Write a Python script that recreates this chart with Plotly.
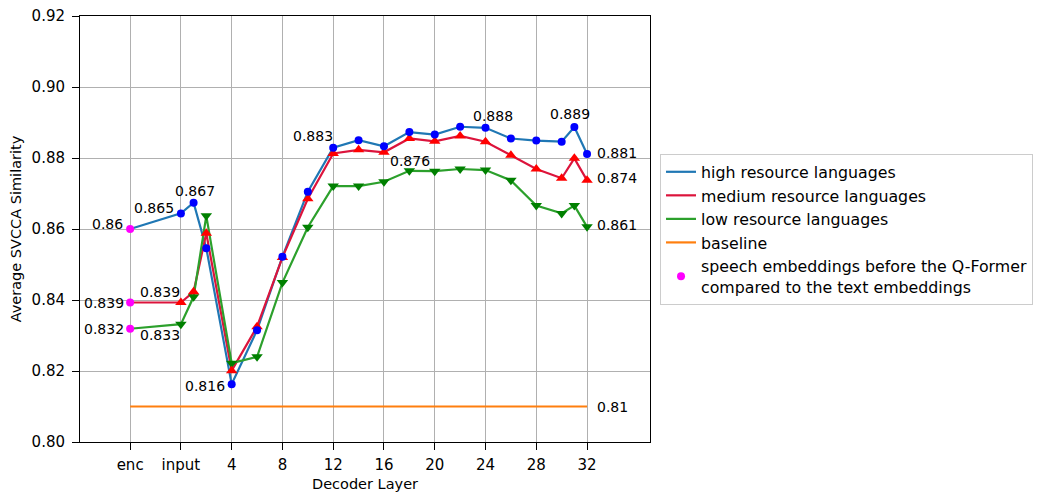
import plotly.graph_objects as go

# x positions: enc=-4, input=0, then decoder layers
x_pos = [-4, 0, 1, 2, 4, 6, 8, 10, 12, 14, 16, 18, 20, 22, 24, 26, 28, 30, 31, 32]

high = [0.8600, 0.8644, 0.8674, 0.8546, 0.8163, 0.8315, 0.8522, 0.8705, 0.8829, 0.8850,
        0.8833, 0.8873, 0.8866, 0.8888, 0.8885, 0.8855, 0.8849, 0.8846, 0.8887, 0.8811]
medium = [0.8393, 0.8393, 0.8423, 0.8588, 0.8201, 0.8325, 0.8520, 0.8685, 0.8813, 0.8823,
          0.8816, 0.8855, 0.8847, 0.8862, 0.8846, 0.8808, 0.8769, 0.8743, 0.8799, 0.8737]
low = [0.8319, 0.8332, 0.8409, 0.8637, 0.8222, 0.8240, 0.8449, 0.8605, 0.8721, 0.8721,
       0.8733, 0.8764, 0.8763, 0.8769, 0.8766, 0.8737, 0.8666, 0.8644, 0.8666, 0.8606]

baseline_x = [-4, 32]
baseline_y = [0.81, 0.81]

enc_x = [-4, -4, -4]
enc_y = [high[0], medium[0], low[0]]

tick_vals = [-4, 0, 4, 8, 12, 16, 20, 24, 28, 32]
tick_text = ["enc", "input", "4", "8", "12", "16", "20", "24", "28", "32"]

# value labels: (x, y, text)
label_x = [-4, 0, 1, -4, 0, -4, 0, 4, 12, 18, 24, 31, 32, 32, 32, 32]
label_y = [high[0], high[1], high[2], medium[0], medium[1], low[0], low[1], high[4],
           high[8], low[11], high[14], high[18], high[19], medium[19], low[19], 0.81]
label_text = ["0.86", "0.865", "0.867", "0.839", "0.839", "0.832", "0.833", "0.816",
              "0.883", "0.876", "0.888", "0.889", "0.881", "0.874", "0.861", "0.81"]
# style: anchor and pixel offsets
label_anchor = ["right", "right", "center", "right", "right", "right", "right", "right",
                "right", "center", "center", "center", "left", "left", "left", "left"]
label_dx = [-5, -5, 1, -4, 1, -4, 1, -5, 2, 1, 7, -4, 8, 8, 8, 8]
label_dy = [5, 5, 12, -1, 10, 0, -11, -2, 12, 10, 12, 13, 1, 2, 2, 0]

FONT = "DejaVu Sans"
fig = go.Figure()

series = [
    ("high resource languages", high, "#1f77b4", "#0000ff", "circle", 8),
    ("medium resource languages", medium, "#dc143c", "#ff0000", "triangle-up", 10),
    ("low resource languages", low, "#2ca02c", "#008000", "triangle-down", 10),
]

# lines
for i, (name, ys, lc, mc, sym, ms) in enumerate(series):
    fig.add_trace(go.Scatter(x=x_pos, y=ys, mode="lines", name=name,
                             line=dict(color=lc, width=2.2), legendrank=i + 1))
fig.add_trace(go.Scatter(x=baseline_x, y=baseline_y, mode="lines", name="baseline",
                         line=dict(color="#ff7f0e", width=2.2), legendrank=4))

# markers (low, medium, high so that blue is on top)
for name, ys, lc, mc, sym, ms in reversed(series):
    fig.add_trace(go.Scatter(x=x_pos[1:], y=ys[1:], mode="markers", showlegend=False,
                             marker=dict(color=mc, symbol=sym, size=ms)))

fig.add_trace(go.Scatter(x=enc_x, y=enc_y, mode="markers",
                         name="speech embeddings before the Q-Former<br>compared to the text embeddings",
                         marker=dict(color="#ff00ff", size=8), legendrank=5))

for xv, yv, t, a, dx, dy in zip(label_x, label_y, label_text, label_anchor, label_dx, label_dy):
    fig.add_annotation(x=xv, y=yv, text=t, showarrow=False, xanchor=a, yanchor="middle",
                       xshift=dx, yshift=dy, font=dict(family=FONT, size=14, color="black"))

fig.update_layout(
    width=1044, height=492,
    margin=dict(l=80, r=393, t=16, b=50),
    paper_bgcolor="white", plot_bgcolor="white",
    font=dict(family=FONT, size=14, color="black"),
    legend=dict(x=1.0158, y=0.676, xanchor="left", yanchor="top",
                bordercolor="#cccccc", borderwidth=1, bgcolor="white",
                font=dict(family=FONT, size=15.8), tracegroupgap=0),
    showlegend=True,
)
fig.update_xaxes(range=[-7.95, 36.96], tickmode="array", tickvals=tick_vals, ticktext=tick_text,
                 showgrid=True, gridcolor="#b0b0b0", gridwidth=1, automargin=False,
                 showline=True, mirror=True, linecolor="black", linewidth=1,
                 ticks="outside", ticklen=7, tickcolor="black", zeroline=False,
                 ticklabelstandoff=2, tickfont=dict(size=15),
                 title=dict(text="Decoder Layer", font=dict(size=14.5), standoff=6))
fig.update_yaxes(range=[0.80, 0.92], tickmode="array",
                 tickvals=[0.80, 0.82, 0.84, 0.86, 0.88, 0.90, 0.92], tickformat=".2f",
                 showgrid=True, gridcolor="#b0b0b0", gridwidth=1, automargin=False,
                 showline=True, mirror=True, linecolor="black", linewidth=1,
                 ticks="outside", ticklen=7, tickcolor="black", zeroline=False,
                 ticklabelstandoff=4, tickfont=dict(size=15),
                 title=dict(text="Average SVCCA Similarity", font=dict(size=14.5), standoff=6))

fig.write_html("out.html")
